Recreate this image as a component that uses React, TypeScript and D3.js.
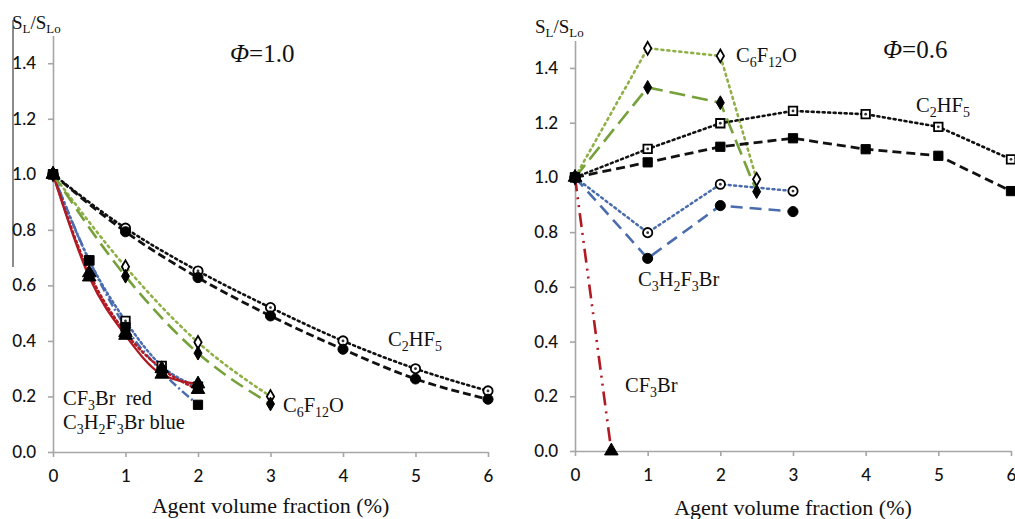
import React, { useEffect, useRef } from "react";
import * as d3 from "d3";

// ---- data ----
const xTicks = [0, 1, 2, 3, 4, 5, 6];
const yTicks = [0, 0.2, 0.4, 0.6, 0.8, 1.0, 1.2, 1.4];

// phi = 1.0 (left panel)
const leftC2HF5X = [0, 1, 2, 3, 4, 5, 6];
const leftC2HF5Open = [1.0, 0.806, 0.652, 0.52, 0.4, 0.3, 0.22];
const leftC2HF5Filled = [1.0, 0.793, 0.628, 0.49, 0.37, 0.263, 0.19];
const leftC6F12OX = [0, 1, 2, 3];
const leftC6F12OOpen = [1.0, 0.667, 0.395, 0.2];
const leftC6F12OFilled = [1.0, 0.633, 0.356, 0.173];
const leftBromX = [0, 0.5, 1, 1.5, 2];
const leftCF3BrA = [1.0, 0.63, 0.42, 0.28, 0.245];
const leftCF3BrB = [1.0, 0.645, 0.43, 0.3, 0.225];
const leftC3H2F3BrOpen = [1.0, 0.69, 0.472, 0.31, 0.235];
const leftC3H2F3BrFilled = [1.0, 0.69, 0.45, 0.29, 0.17];

// phi = 0.6 (right panel)
const rightC6F12OX = [0, 1, 2, 2.5];
const rightC6F12OOpen = [1.0, 1.472, 1.444, 0.993];
const rightC6F12OFilled = [1.0, 1.329, 1.273, 0.948];
const rightC2HF5X = [0, 1, 2, 3, 4, 5, 6];
const rightC2HF5Open = [1.0, 1.104, 1.198, 1.243, 1.231, 1.185, 1.066];
const rightC2HF5Filled = [1.0, 1.055, 1.112, 1.143, 1.103, 1.079, 0.95];
const rightC3H2F3BrX = [0, 1, 2, 3];
const rightC3H2F3BrOpen = [1.0, 0.798, 0.975, 0.95];
const rightC3H2F3BrFilled = [1.0, 0.704, 0.897, 0.875];
const rightCF3BrX = [0, 0.5];
const rightCF3Br = [1.0, 0.0];

const GREEN_DOT = "#8fb046";
const GREEN_DASH = "#76a03a";
const BLUE = "#4a6cae";
const RED = "#b01a22";

const zip = (xs: number[], ys: number[]) => xs.map((x, i) => [x, ys[i]] as [number, number]);

type Series = {
  pts: [number, number][];
  color: string;
  dash: string;
  width: number;
  marker: string;
  open: boolean;
};

// drawn in list order, so the last one ends up on top at (0, 1)
const leftSeries: Series[] = [
  { pts: zip(leftBromX, leftC3H2F3BrOpen), color: BLUE, dash: "2,3", width: 2.5, marker: "square", open: true },
  { pts: zip(leftBromX, leftC3H2F3BrFilled), color: BLUE, dash: "9,3,2,3", width: 2.5, marker: "square", open: false },
  { pts: zip(leftBromX, leftCF3BrB), color: RED, dash: "2,3", width: 2.5, marker: "triangle", open: false },
  { pts: zip(leftBromX, leftCF3BrA), color: RED, dash: "none", width: 2.3, marker: "triangle", open: false },
  { pts: zip(leftC6F12OX, leftC6F12OOpen), color: GREEN_DOT, dash: "2,4", width: 2.6, marker: "diamond", open: true },
  { pts: zip(leftC6F12OX, leftC6F12OFilled), color: GREEN_DASH, dash: "14,7", width: 2.6, marker: "diamond", open: false },
  { pts: zip(leftC2HF5X, leftC2HF5Open), color: "#111", dash: "2,3.5", width: 2.6, marker: "circle", open: true },
  { pts: zip(leftC2HF5X, leftC2HF5Filled), color: "#111", dash: "8,4", width: 2.8, marker: "circle", open: false },
];

const rightSeries: Series[] = [
  { pts: zip(rightCF3BrX, rightCF3Br), color: RED, dash: "14,6,2,6,2,6", width: 2.6, marker: "triangle", open: false },
  { pts: zip(rightC3H2F3BrX, rightC3H2F3BrOpen), color: BLUE, dash: "2,3.5", width: 2.5, marker: "circle", open: true },
  { pts: zip(rightC3H2F3BrX, rightC3H2F3BrFilled), color: BLUE, dash: "12,7", width: 2.6, marker: "circle", open: false },
  { pts: zip(rightC6F12OX, rightC6F12OOpen), color: GREEN_DOT, dash: "2,4", width: 2.6, marker: "diamond", open: true },
  { pts: zip(rightC6F12OX, rightC6F12OFilled), color: GREEN_DASH, dash: "16,7", width: 2.6, marker: "diamond", open: false },
  { pts: zip(rightC2HF5X, rightC2HF5Open), color: "#111", dash: "2,3.5", width: 2.6, marker: "square", open: true },
  { pts: zip(rightC2HF5X, rightC2HF5Filled), color: "#111", dash: "9,5", width: 2.8, marker: "square", open: false },
];

// pieces of a label: [text, subscript?]
type Piece = [string, boolean];
const chem = (s: string): Piece[] => {
  const out: Piece[] = [];
  s.replace(/(\d+)|([^\d]+)/g, (m, d) => {
    out.push([m, !!d]);
    return m;
  });
  return out;
};
const slLabel: Piece[] = [["S", false], ["L", true], ["/S", false], ["Lo", true]];

function addText(g: any, x: number, y: number, pieces: Piece[], size: number) {
  const t = g.append("text")
    .attr("x", x).attr("y", y)
    .attr("font-family", "'Liberation Serif', 'Times New Roman', serif")
    .attr("font-size", size)
    .attr("fill", "#111");
  let down = false;
  pieces.forEach(([s, sub]) => {
    const sp = t.append("tspan").text(s);
    if (sub && !down) { sp.attr("dy", size * 0.22).attr("font-size", size * 0.68); down = true; }
    else if (sub) sp.attr("font-size", size * 0.68);
    else if (down) { sp.attr("dy", -size * 0.22); down = false; }
  });
  return t;
}

function drawPanel(
  svg: any,
  opts: {
    x0: number; x1: number; y0: number; unit: number; curved: boolean;
    series: Series[]; phi: string; phiX: number; phiY: number;
    slX: number; slY: number; titleY: number;
    labels: { x: number; y: number; text: Piece[] }[];
  }
) {
  const xScale = d3.scaleLinear().domain([0, 6]).range([opts.x0, opts.x1]);
  const yScale = d3.scaleLinear().domain([0, 1.5]).range([opts.y0, opts.y0 - 1.5 * opts.unit]);
  const g = svg.append("g");

  const xAxis = g.append("g")
    .attr("transform", `translate(0,${opts.y0})`)
    .call(d3.axisBottom(xScale).tickValues(xTicks).tickSize(5).tickSizeOuter(0).tickPadding(13).tickFormat(d3.format("d")));
  const yAxis = g.append("g")
    .attr("transform", `translate(${opts.x0},0)`)
    .call(d3.axisLeft(yScale).tickValues(yTicks).tickSize(5).tickSizeOuter(0).tickPadding(12).tickFormat(d3.format(".1f")));
  [xAxis, yAxis].forEach((a) => {
    a.selectAll("path, line").attr("stroke", "#a6a6a6").attr("stroke-width", 1.6);
    a.selectAll("text").attr("font-family", "Lato, 'Open Sans', sans-serif").attr("font-size", 17)
      .attr("font-weight", 500).attr("fill", "#111");
  });

  const line = d3.line<[number, number]>()
    .x((d) => xScale(d[0]))
    .y((d) => yScale(d[1]))
    .curve(opts.curved ? d3.curveMonotoneX : d3.curveLinear);

  opts.series.forEach((s) => {
    g.append("path")
      .attr("d", line(s.pts))
      .attr("fill", "none")
      .attr("stroke", s.color)
      .attr("stroke-width", s.width)
      .attr("stroke-linecap", s.dash.startsWith("2,") ? "round" : "butt")
      .attr("stroke-dasharray", s.dash);
  });

  const symbolOf: Record<string, any> = {
    circle: d3.symbolCircle, square: d3.symbolSquare, diamond: d3.symbolDiamond, triangle: d3.symbolTriangle,
  };
  const sizeOf: Record<string, number> = { circle: 80, square: 85, diamond: 55, triangle: 80 };
  opts.series.forEach((s) => {
    const sym = d3.symbol().type(symbolOf[s.marker]).size(s.open ? sizeOf[s.marker] * 0.85 : sizeOf[s.marker]);
    s.pts.forEach((p) => {
      const mg = g.append("g").attr("transform", `translate(${xScale(p[0])},${yScale(p[1])})`);
      mg.append("path").attr("d", sym()).attr("fill", s.open ? "#fff" : "#000").attr("stroke", "#000").attr("stroke-width", s.open ? 1.8 : 1);
      if (s.open && s.marker !== "diamond") mg.append("circle").attr("r", 1.4).attr("fill", "#333");
    });
  });

  addText(g, opts.slX, opts.slY, slLabel, 19);
  const phi = g.append("text")
    .attr("x", opts.phiX).attr("y", opts.phiY)
    .attr("font-family", "'Liberation Serif', 'Times New Roman', serif")
    .attr("font-size", 25).attr("fill", "#111");
  phi.append("tspan").attr("font-style", "italic").text("Φ");
  phi.append("tspan").text(opts.phi);

  opts.labels.forEach((l) => addText(g, l.x, l.y, l.text, 20.5));

  g.append("text")
    .attr("x", (opts.x0 + opts.x1) / 2 + 0).attr("y", opts.titleY)
    .attr("text-anchor", "middle")
    .attr("font-family", "'Liberation Serif', 'Times New Roman', serif")
    .attr("font-size", 22).attr("fill", "#111")
    .text("Agent volume fraction (%)");
}

export default function App() {
  const ref = useRef<SVGSVGElement | null>(null);

  useEffect(() => {
    const svg = d3.select(ref.current);
    svg.selectAll("*").remove();
    svg.append("rect").attr("width", 1015).attr("height", 519).attr("fill", "#fff");
    // stray frame line at the far left of the original scan
    svg.append("line").attr("x1", 13).attr("x2", 13).attr("y1", 20).attr("y2", 267)
      .attr("stroke", "#6e6e6e").attr("stroke-width", 1.6);

    drawPanel(svg, {
      x0: 53, x1: 488, y0: 452, unit: 277.7, curved: true, series: leftSeries,
      phi: "=1.0", phiX: 230, phiY: 62, slX: 12, slY: 29, titleY: 513,
      labels: [
        { x: 388, y: 346, text: chem("C2HF5") },
        { x: 283, y: 412, text: chem("C6F12O") },
        { x: 63, y: 405, text: [...chem("CF3Br"), ["\u00a0 red", false]] },
        { x: 63, y: 429, text: [...chem("C3H2F3Br"), [" blue", false]] },
      ],
    });
    drawPanel(svg, {
      x0: 575, x1: 1011, y0: 451, unit: 273.6, curved: false, series: rightSeries,
      phi: "=0.6", phiX: 883, phiY: 58, slX: 535, slY: 33, titleY: 515,
      labels: [
        { x: 736, y: 62, text: chem("C6F12O") },
        { x: 916, y: 112, text: chem("C2HF5") },
        { x: 638, y: 286, text: chem("C3H2F3Br") },
        { x: 625, y: 392, text: chem("CF3Br") },
      ],
    });
  }, []);

  return (
    <div style={{ position: "absolute", left: 0, top: 0 }}>
      <svg ref={ref} width={1015} height={519} style={{ display: "block" }} />
    </div>
  );
}
